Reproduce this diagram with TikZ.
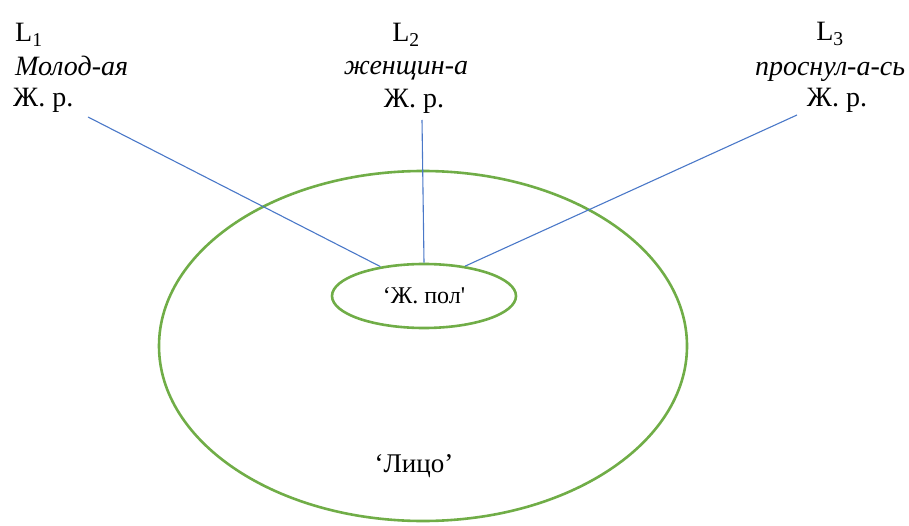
\documentclass[tikz,border=0pt]{standalone}
\usepackage{fontspec}
\setmainfont{Liberation Serif}
\usetikzlibrary{shapes.geometric}
\definecolor{lineblue}{HTML}{4A78C8}
\definecolor{ringgreen}{HTML}{70AD47}
\tikzset{
  lbl/.style={anchor=base west, inner sep=0pt, font=\fontsize{28}{32}\selectfont},
  lblc/.style={lbl, anchor=base},
  ring/.style={ellipse, draw=ringgreen, line width=2.6pt, inner sep=0pt},
  link/.style={draw=lineblue, line width=1.1pt}
}
\begin{document}
\begin{tikzpicture}[x=1pt,y=-1pt]
\useasboundingbox (0,0) rectangle (909,526);
% big and small ellipses
\node[ring, minimum width=528pt, minimum height=350pt] (big) at (423,346) {};
\node[ring, minimum width=184pt, minimum height=64pt, font=\fontsize{24}{28}\selectfont] (small) at (424,296) {‘Ж. пол\textquotesingle};
\node[inner sep=0pt, font=\fontsize{27}{32}\selectfont] (lico) at (414,466) {‘Лицо’};
% column 1
\node[lbl] (l1) at (15,42) {L\textsubscript{1}};
\node[lbl] (w1) at (15,76) {\itshape Молод-ая};
\node[lbl] (g1) at (13,107) {Ж. р.};
% column 2
\node[lblc] (l2) at (406,42) {L\textsubscript{2}};
\node[lblc] (w2) at (406,75) {\itshape женщин-а};
\node[lblc] (g2) at (414,108) {Ж. р.};
% column 3
\node[lblc] (l3) at (830,41) {L\textsubscript{3}};
\node[lblc] (w3) at (830,76) {\itshape проснул-а-сь};
\node[lblc] (g3) at (837,107) {Ж. р.};
% connector start points
\coordinate (s1) at (88,117);
\coordinate (s2) at (422,120);
\coordinate (s3) at (797,115);
\draw[link] (s1) -- (small.146);
\draw[link] (s2) -- (small.90);
\draw[link] (s3) -- (small.36);
\end{tikzpicture}
\end{document}
